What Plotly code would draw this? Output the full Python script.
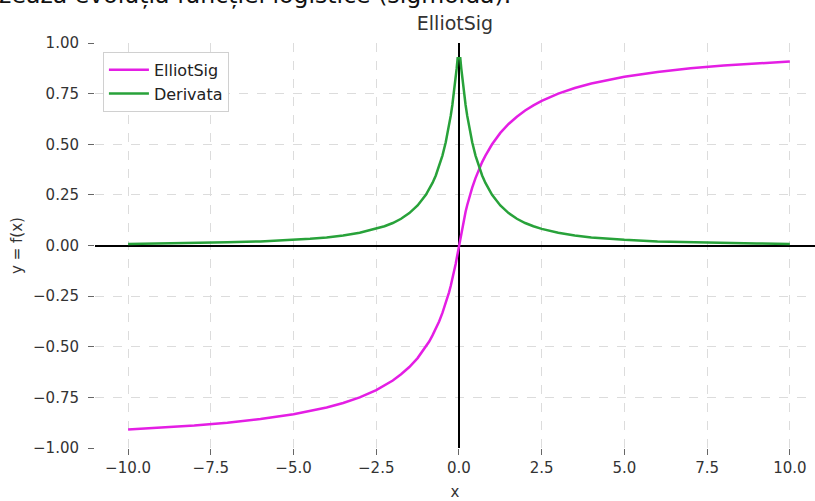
import plotly.graph_objects as go

# Values
x_vals = [-10, -9, -8, -7, -6, -5, -4.5, -4, -3.5, -3, -2.5, -2.25, -2, -1.75, -1.5, -1.25,
          -1, -0.9, -0.8, -0.7, -0.6, -0.5, -0.4, -0.3, -0.25, -0.2, -0.15, -0.1, -0.07, -0.04,
          0.04, 0.07, 0.1, 0.15, 0.2, 0.25, 0.3, 0.4, 0.5, 0.6, 0.7, 0.8, 0.9, 1,
          1.25, 1.5, 1.75, 2, 2.25, 2.5, 3, 3.5, 4, 4.5, 5, 6, 7, 8, 9, 10]
elliot_vals = [-0.909, -0.900, -0.889, -0.875, -0.857, -0.833, -0.818, -0.800, -0.778,
               -0.750, -0.714, -0.692, -0.667, -0.636, -0.600, -0.556,
               -0.500, -0.474, -0.444, -0.412, -0.375, -0.333, -0.286, -0.231, -0.200,
               -0.167, -0.130, -0.091, -0.065, -0.038,
               0.038, 0.065, 0.091, 0.130, 0.167, 0.200, 0.231, 0.286, 0.333, 0.375,
               0.412, 0.444, 0.474, 0.500,
               0.556, 0.600, 0.636, 0.667, 0.692, 0.714, 0.750, 0.778, 0.800, 0.818,
               0.833, 0.857, 0.875, 0.889, 0.900, 0.909]
deriv_vals = [0.008, 0.010, 0.012, 0.016, 0.020, 0.028, 0.033, 0.040, 0.049,
              0.063, 0.082, 0.095, 0.111, 0.132, 0.160, 0.198,
              0.250, 0.277, 0.309, 0.346, 0.391, 0.444, 0.510, 0.592, 0.640,
              0.694, 0.756, 0.826, 0.873, 0.925,
              0.925, 0.873, 0.826, 0.756, 0.694, 0.640, 0.592, 0.510, 0.444, 0.391,
              0.346, 0.309, 0.277, 0.250,
              0.198, 0.160, 0.132, 0.111, 0.095, 0.082, 0.063, 0.049, 0.040, 0.033,
              0.028, 0.020, 0.016, 0.012, 0.010, 0.008]
x_ticks = [-10.0, -7.5, -5.0, -2.5, 0.0, 2.5, 5.0, 7.5, 10.0]
y_ticks = [-1.0, -0.75, -0.5, -0.25, 0.0, 0.25, 0.5, 0.75, 1.0]

FONT = "DejaVu Sans, sans-serif"

fig = go.Figure()
fig.add_trace(go.Scatter(x=x_vals, y=elliot_vals, mode="lines", name="ElliotSig",
                         line=dict(color="#e41ee4", width=2.5)))
fig.add_trace(go.Scatter(x=x_vals, y=deriv_vals, mode="lines", name="Derivata",
                         line=dict(color="#28a23a", width=2.5)))

fig.update_layout(
    width=815, height=501,
    margin=dict(l=95, r=0, t=43, b=53),
    paper_bgcolor="white", plot_bgcolor="white",
    font=dict(family=FONT, size=15, color="#333333"),
    title=dict(text="ElliotSig", x=0.5, xref="paper", xanchor="center",
               y=1, yref="paper", yanchor="bottom", pad=dict(b=13),
               font=dict(family=FONT, size=19, color="#333333")),
    showlegend=True,
    legend=dict(x=0.011, y=0.978, xanchor="left", yanchor="top",
                bgcolor="white", bordercolor="#d0d0d0", borderwidth=1,
                font=dict(family=FONT, size=16, color="#222222"),
                tracegroupgap=0, itemwidth=40),
    annotations=[dict(text="Vizualizează evoluția funcției logistice (sigmoidă).",
                      xref="paper", yref="paper", x=0.5806, y=1,
                      xanchor="right", yanchor="middle", yshift=48, showarrow=False,
                      font=dict(family="DejaVu Sans, sans-serif", size=23.6, color="#111111"))],
)
fig.update_xaxes(range=[-11, 10.76], tickvals=x_ticks, tickformat=".1f",
                 showgrid=True, gridcolor="#dcdcdc", griddash="dash", gridwidth=1,
                 zeroline=True, zerolinecolor="black", zerolinewidth=1.7,
                 showline=False, ticks="outside", ticklen=6, tickcolor="#666666",
                 title=dict(text="x", standoff=11, font=dict(size=15)))
fig.update_yaxes(range=[-1, 1], tickvals=y_ticks, tickformat=".2f",
                 showgrid=True, gridcolor="#dcdcdc", griddash="dash", gridwidth=1,
                 zeroline=True, zerolinecolor="black", zerolinewidth=1.7,
                 showline=False, ticks="outside", ticklen=6, tickcolor="#666666",
                 ticklabelstandoff=6,
                 title=dict(text="y = f(x)", standoff=6, font=dict(size=15)))

fig.write_html("out.html")
